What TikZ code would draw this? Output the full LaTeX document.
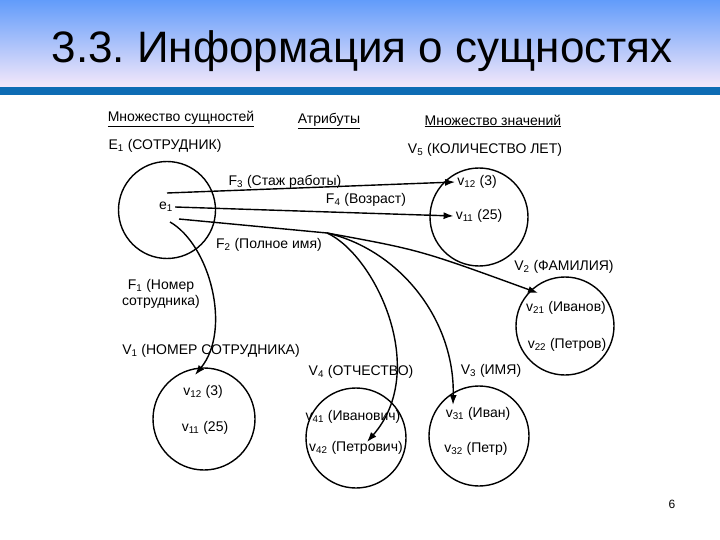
\documentclass[tikz,border=0pt]{standalone}
\usepackage{fontspec}
\setmainfont{Liberation Sans}
\usetikzlibrary{arrows.meta}
\frenchspacing
\newcommand{\lowidx}[1]{\textsubscript{#1}}
\definecolor{skytop}{RGB}{98,156,250}
\definecolor{skybot}{RGB}{244,232,250}
\definecolor{barblue}{RGB}{14,108,180}
\tikzset{
  every path/.style={line width=1.4pt},
  set/.style={draw,circle,inner sep=0pt,minimum size=#1},
  lbl/.style={font=\fontsize{14}{16}\selectfont,inner sep=1.5pt},
  arr/.style={-{Latex[length=10pt,width=7pt]}}
}
\begin{document}
\begin{tikzpicture}[x=1pt,y=-1pt]
    \useasboundingbox (0,0) rectangle (720,540);
    % заголовок
    \shade[top color=skytop,bottom color=skybot] (0,0) rectangle (720,87);
    \fill[barblue] (0,87) rectangle (720,95);
    \node[anchor=base west,inner sep=0pt,font=\fontsize{44}{50}\selectfont] (title) at (51,63) {3.3. Информация о сущностях};

    % заголовки колонок
    \node[lbl] (hE) at (181,119) {\underline{Множество сущностей}};
    \node[lbl] (hF) at (329,121) {\underline{Атрибуты}};
    \node[lbl] (hV) at (493,121) {\underline{Множество значений}};

    % множества
    \node[set=97pt]  (E1) at (167,210) {};
    \node[set=98pt]  (V5) at (479,217) {};
    \node[set=98pt]  (V2) at (565,326) {};
    \node[set=102pt] (V1) at (204,419) {};
    \node[set=100pt] (V4) at (356,438) {};
    \node[set=100pt] (V3) at (479,436) {};

    % подписи множеств
    \node[lbl] (lE1) at (165,146) {E\lowidx{1} (СОТРУДНИК)};
    \node[lbl] (lV5) at (485,150) {V\lowidx{5} (КОЛИЧЕСТВО ЛЕТ)};
    \node[lbl] (lV2) at (564,267) {V\lowidx{2} (ФАМИЛИЯ)};
    \node[lbl] (lV1) at (211,351) {V\lowidx{1} (НОМЕР СОТРУДНИКА)};
    \node[lbl] (lV4) at (361,372) {V\lowidx{4} (ОТЧЕСТВО)};
    \node[lbl] (lV3) at (491,371) {V\lowidx{3} (ИМЯ)};

    % элементы
    \node[lbl] (e1)   at (166,207) {e\lowidx{1}};
    \node[lbl] (v512) at (477,182) {v\lowidx{12} (3)};
    \node[lbl] (v511) at (479,216) {v\lowidx{11} (25)};
    \node[lbl] (v221) at (566,308) {v\lowidx{21} (Иванов)};
    \node[lbl] (v222) at (567,345) {v\lowidx{22} (Петров)};
    \node[lbl] (v112) at (203,392) {v\lowidx{12} (3)};
    \node[lbl] (v111) at (205,428) {v\lowidx{11} (25)};
    \node[lbl] (v441) at (353,417) {v\lowidx{41} (Иванович)};
    \node[lbl] (v442) at (356,448) {v\lowidx{42} (Петрович)};
    \node[lbl] (v331) at (478,414) {v\lowidx{31} (Иван)};
    \node[lbl] (v332) at (476,449) {v\lowidx{32} (Петр)};

    % подписи атрибутов
    \node[lbl] (F3) at (285,182) {F\lowidx{3} (Стаж работы)};
    \node[lbl] (F4) at (366,200) {F\lowidx{4} (Возраст)};
    \node[lbl] (F2) at (269,245) {F\lowidx{2} (Полное имя)};
    \node[lbl,align=center] (F1) at (161,294) {F\lowidx{1} (Номер\\сотрудника)};

    % точки
    \coordinate (s3) at (167,193);
    \coordinate (s2) at (179,219);
    \coordinate (s1) at (170,222);
    \coordinate (br) at (327,233);
    \coordinate (t2) at (538,293);
    \coordinate (t3) at (453,405);
    \coordinate (t4) at (367,442);
    \coordinate (t1) at (195,375);

    % стрелки
    \draw[arr] (s3) -- (v512.west);
    \draw[arr] (e1.east) -- (v511.west);
    \draw (s2) -- (br);
    \draw[arr] (br) .. controls (420,250) .. (t2);
    \draw[arr] (br) .. controls (400,250) and (455,320) .. (t3);
    \draw[arr] (br) .. controls (375,255) and (430,370) .. (t4);
    \draw[arr] (s1) .. controls (210,245) and (232,330) .. (t1);

    \node[font=\fontsize{12}{14}\selectfont] (pg) at (672,504) {6};
\end{tikzpicture}
\end{document}
